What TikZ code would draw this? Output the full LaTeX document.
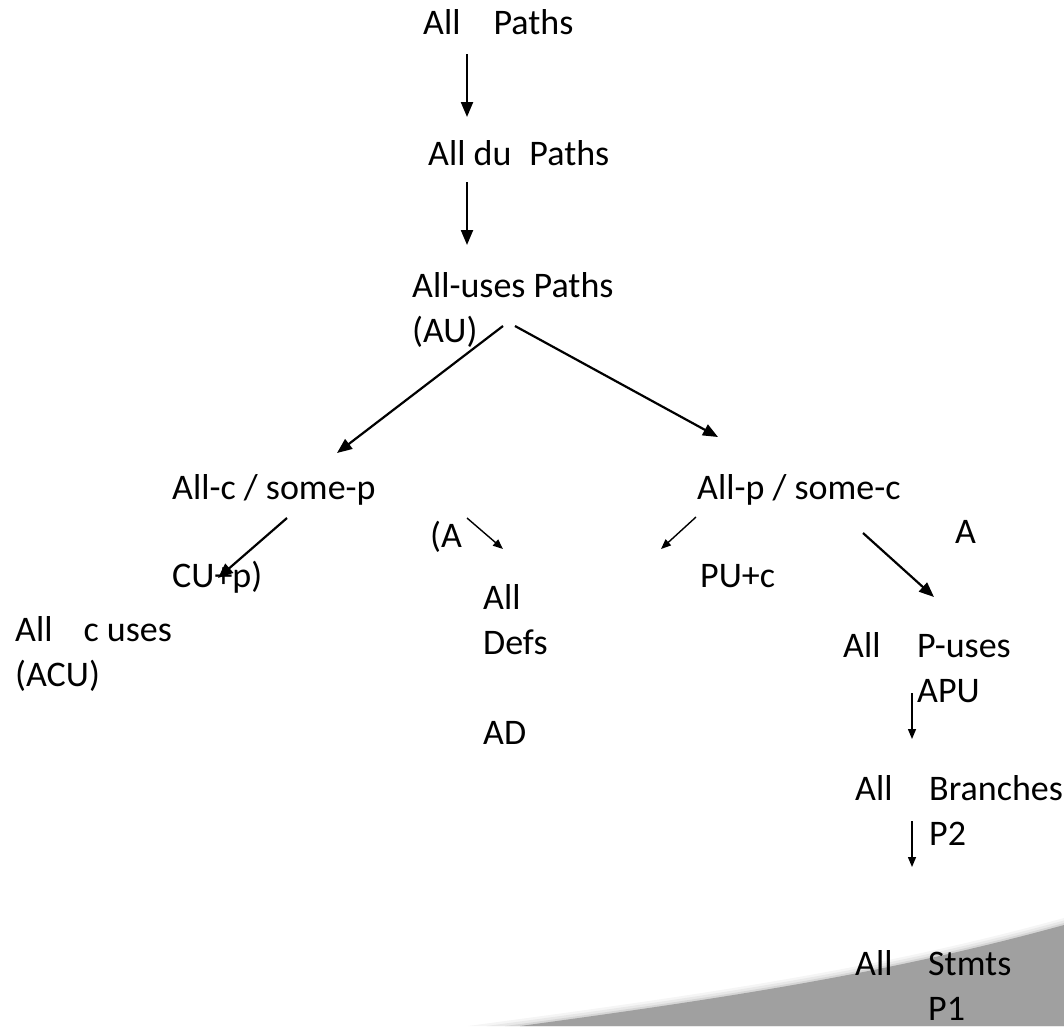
\documentclass[tikz,border=0pt]{standalone}
\usepackage{fontspec}
\setmainfont{Carlito}
\usepackage{tikz}
\usetikzlibrary{arrows.meta}
\definecolor{slidegray}{RGB}{160,160,160}
\tikzset{
  lbl/.style={inner sep=0pt, anchor=base west, align=left, font=\fontsize{36}{45}\selectfont},
  bigarrow/.style={line width=2.2pt, -{Triangle[length=15pt,width=12pt]}},
  smallarrow/.style={line width=1.4pt, -{Triangle[length=10pt,width=8pt]}},
}

\begin{document}
\begin{tikzpicture}[x=1pt,y=-1pt]
\useasboundingbox (0,0) rectangle (1064,1026);
% slide corner with soft edge
\foreach \dy/\tone in {7/black!4, 4.5/black!9, 2/black!16}
  \fill[\tone] ({520-7.4*\dy},1026) -- (520,{1026-\dy}) .. controls (750,{995-\dy}) and (900,{970-\dy}) .. (1064,{925-\dy}) -- (1064,1026) -- cycle;
\fill[slidegray] (520,1026) .. controls (750,995) and (900,970) .. (1064,925) -- (1064,1026) -- cycle;

% labels (multi-line ones sit on the baseline of their last line)
\node[lbl] (allp) at (423,34) {All\hspace{33pt}Paths};
\node[lbl] (alldu) at (428,165) {All du\hspace{18pt}Paths};
\node[lbl] (au) at (412,342) {All-uses Paths\\(AU)};
\node[lbl] (acsp) at (172,499) {All-c / some-p};
\node[lbl] (acu1) at (430,547) {(A};
\node[lbl] (acu2) at (172,587) {CU+p)};
\node[lbl] (apsc) at (697,499) {All-p / some-c};
\node[lbl] (apu1) at (955,543) {A};
\node[lbl] (apu2) at (700,587) {PU+c};
\node[lbl] (acu) at (15,686) {All\hspace{31pt}c uses\\(ACU)};
\node[lbl] (ad) at (483,744) {All\\Defs\\[45pt]AD};
\node[lbl] (puall) at (843,657) {All};
\node[lbl] (pu) at (917,702) {P-uses\\APU};
\node[lbl] (brall) at (855,800) {All};
\node[lbl] (br) at (929,845) {Branches\\P2};
\node[lbl] (stall) at (855,975) {All};
\node[lbl] (st) at (928,1020) {Stmts\\P1};

% arrow ends
\foreach \name/\x/\y in {a1/467/54, a1t/467/117, a2/467/182, a2t/467/245,
    a3/503/326, a3t/337/453, a4/515/326, a4t/718/437,
    a5/287/518, a5t/218/578, a6/467/518, a6t/503/549,
    a7/696/517, a7t/661/549, a8/863/533, a8t/934/597,
    a9/912/693, a9t/912/739, a10/912/821, a10t/912/867}
  \coordinate (\name) at (\x,\y);

\draw[bigarrow] (a1) -- (a1t);
\draw[bigarrow] (a2) -- (a2t);
\draw[bigarrow] (a3) -- (a3t);
\draw[bigarrow] (a4) -- (a4t);
\draw[bigarrow] (a5) -- (a5t);
\draw[smallarrow] (a6) -- (a6t);
\draw[smallarrow] (a7) -- (a7t);
\draw[bigarrow] (a8) -- (a8t);
\draw[smallarrow] (a9) -- (a9t);
\draw[smallarrow] (a10) -- (a10t);
\end{tikzpicture}
\end{document}
